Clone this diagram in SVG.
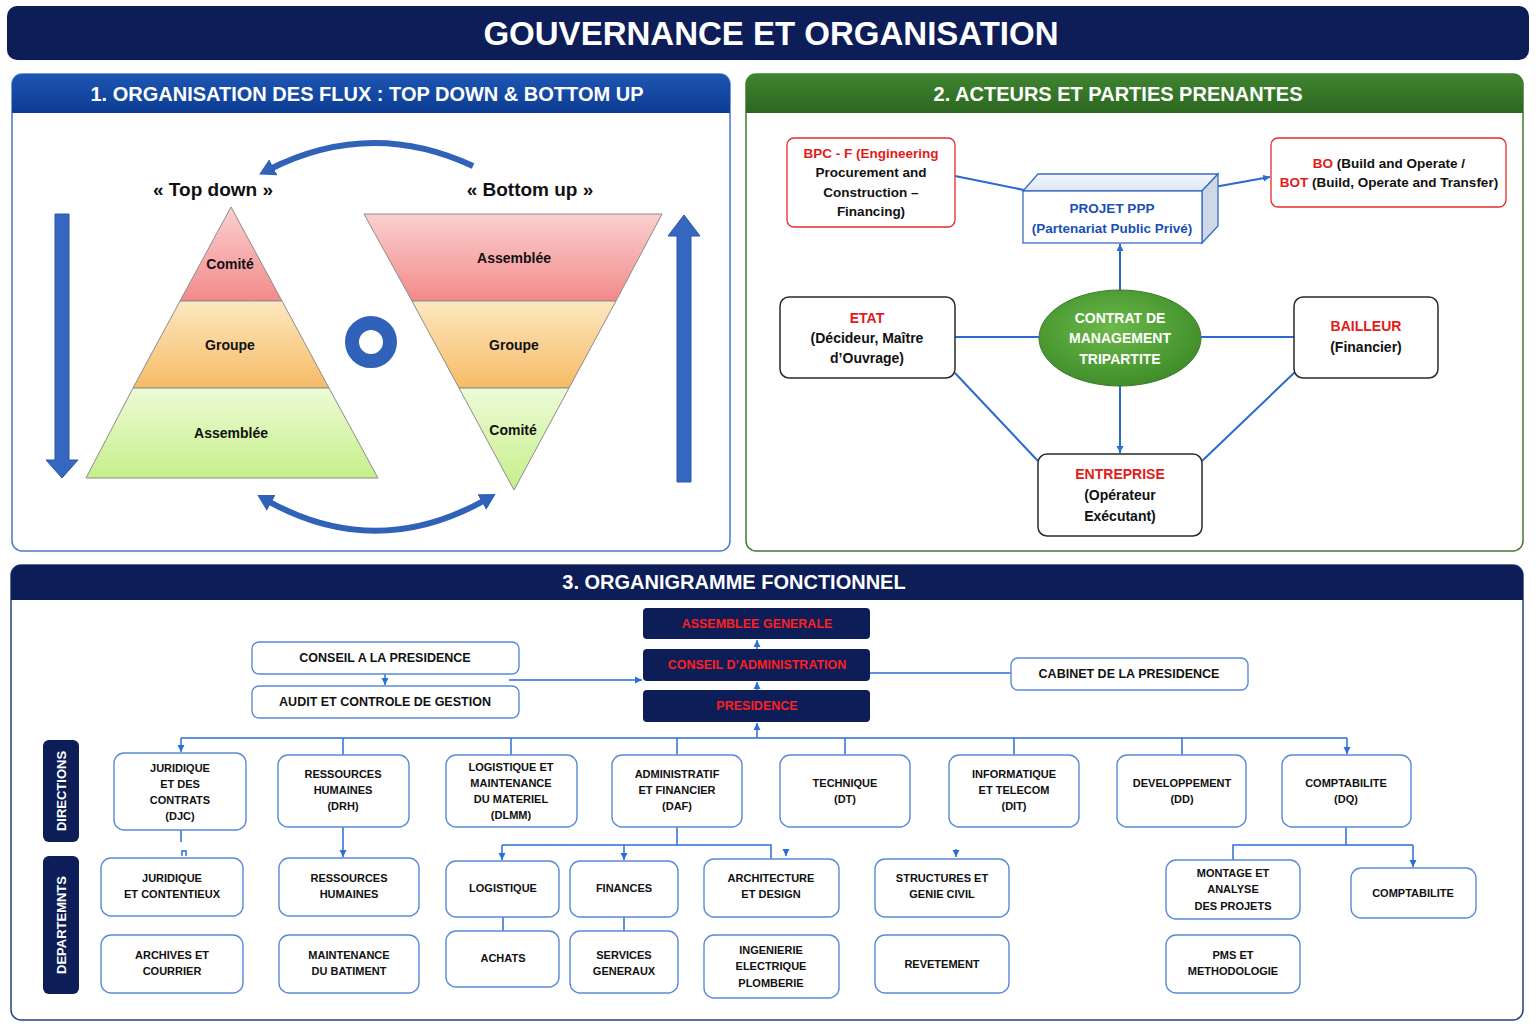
<svg xmlns="http://www.w3.org/2000/svg" width="1536" height="1024" viewBox="0 0 1536 1024">
<defs>
<style>
text{font-family:"Liberation Sans",Arial,sans-serif;dominant-baseline:central;text-anchor:middle}
.hdr{fill:#fff;font-weight:bold;font-size:20px}
.pyr{font-weight:bold;font-size:14px;fill:#111}
.big{font-weight:bold;font-size:19px;fill:#111}
.band{stroke:#8c8c8c;stroke-width:1}
.s2{font-weight:bold;font-size:14px;fill:#111}
.red{fill:#e31b1b}
.rbox{fill:#fff;stroke:#e52b2b;stroke-width:1.3}
.kbox{fill:#fff;stroke:#2a2a2a;stroke-width:1.5}
.c2{stroke:#2a6ad0;stroke-width:2;fill:none}
.c3{stroke:#2a6fd6;stroke-width:1.5;fill:none}
.nav{fill:#0c1d58}
.navt{fill:#ff1f1f;font-size:12.5px;font-weight:bold}
.wbox{fill:#fff;stroke:#5a8ad6;stroke-width:1.4}
.t3{font-weight:bold;font-size:12.5px;fill:#111}
.t4{font-weight:bold;font-size:11px;fill:#111}
.side{fill:#fff;font-weight:bold;font-size:13px}
</style>
<linearGradient id="gRed" x1="0" y1="0" x2="0" y2="1"><stop offset="0" stop-color="#fbd0d0"/><stop offset="1" stop-color="#f38a8a"/></linearGradient>
<linearGradient id="gOra" x1="0" y1="0" x2="0" y2="1"><stop offset="0" stop-color="#fde8c0"/><stop offset="1" stop-color="#f6bb66"/></linearGradient>
<linearGradient id="gGrn" x1="0" y1="0" x2="0" y2="1"><stop offset="0" stop-color="#edfbd6"/><stop offset="1" stop-color="#c6ef8a"/></linearGradient>
<linearGradient id="gH1" x1="0" y1="0" x2="0" y2="1"><stop offset="0" stop-color="#1d56b4"/><stop offset="1" stop-color="#0c3c92"/></linearGradient>
<linearGradient id="gH2" x1="0" y1="0" x2="0" y2="1"><stop offset="0" stop-color="#3f8530"/><stop offset="1" stop-color="#2c6720"/></linearGradient>
<radialGradient id="gEll" cx="0.45" cy="0.4" r="0.65"><stop offset="0" stop-color="#6cba4a"/><stop offset="1" stop-color="#3b8a26"/></radialGradient>
<linearGradient id="gTop" x1="0" y1="0" x2="0" y2="1"><stop offset="0" stop-color="#f2f6fc"/><stop offset="1" stop-color="#dfe7f4"/></linearGradient>
<marker id="arr" markerUnits="userSpaceOnUse" markerWidth="8" markerHeight="8" refX="7" refY="4" orient="auto-start-reverse"><path d="M0,0.5 L7,4 L0,7.5 z" fill="#2a6fd6"/></marker>
<marker id="bigarr" markerUnits="userSpaceOnUse" markerWidth="20" markerHeight="20" refX="6" refY="10" orient="auto-start-reverse"><path d="M0,1 L16,10 L0,19 z" fill="#2f62b8"/></marker>
</defs>
<rect width="1536" height="1024" fill="#ffffff"/>

<!-- Title -->
<g id="title">
<rect x="7" y="6" width="1522" height="54" rx="10" class="nav"/>
<text x="771" y="33" style="fill:#fff;font-weight:bold;font-size:33px">GOUVERNANCE ET ORGANISATION</text>
</g>

<!-- Section 1 -->
<g id="section1">
<rect x="12" y="74" width="718" height="477" rx="10" fill="#fff" stroke="#4a78c8" stroke-width="1.5"/>
<path d="M12,113 V84 A10,10 0 0 1 22,74 H720 A10,10 0 0 1 730,84 V113 Z" fill="url(#gH1)"/>
<text x="367" y="94" class="hdr">1. ORGANISATION DES FLUX : TOP DOWN &amp; BOTTOM UP</text>
</g>
<g id="topdown">
<text x="213" y="189" class="big">« Top down »</text>
<polygon class="band" points="231,207 282,301 180,301" fill="url(#gRed)"/>
<polygon class="band" points="180,301 282,301 329,388 133,388" fill="url(#gOra)"/>
<polygon class="band" points="133,388 329,388 378,478 86,478" fill="url(#gGrn)"/>
<text x="230" y="264" class="pyr">Comité</text>
<text x="230" y="345" class="pyr">Groupe</text>
<text x="231" y="433" class="pyr">Assemblée</text>
</g>
<g id="bottomup">
<text x="530" y="189" class="big">« Bottom up »</text>
<polygon class="band" points="364,214 662,214 616,301 412,301" fill="url(#gRed)"/>
<polygon class="band" points="412,301 616,301 569,388 459,388" fill="url(#gOra)"/>
<polygon class="band" points="459,388 569,388 514,490" fill="url(#gGrn)"/>
<text x="514" y="258" class="pyr">Assemblée</text>
<text x="514" y="345" class="pyr">Groupe</text>
<text x="513" y="430" class="pyr">Comité</text>
</g>
<g id="ring">
<circle cx="371" cy="342" r="19" fill="none" stroke="#2f62b8" stroke-width="14"/>
</g>
<g id="flow-arrows">
<polygon points="55,214 69,214 69,460 78,460 62,478 46,460 55,460" fill="#3567c0" stroke="#2a55a8" stroke-width="1"/>
<polygon points="677,482 691,482 691,236 700,236 684,215 668,236 677,236" fill="#3567c0" stroke="#2a55a8" stroke-width="1"/>
<path d="M473,166 Q370,118 268,170" fill="none" stroke="#2f62b8" stroke-width="6" marker-end="url(#bigarr)"/>
<path d="M266,500 Q376,562 487,499" fill="none" stroke="#2f62b8" stroke-width="6" marker-start="url(#bigarr)" marker-end="url(#bigarr)"/>
</g>

<!-- Section 2 -->
<g id="section2">
<rect x="746" y="74" width="777" height="477" rx="10" fill="#fff" stroke="#3f7a30" stroke-width="1.5"/>
<path d="M746,113 V84 A10,10 0 0 1 756,74 H1513 A10,10 0 0 1 1523,84 V113 Z" fill="url(#gH2)"/>
<text x="1118" y="94" class="hdr">2. ACTEURS ET PARTIES PRENANTES</text>
</g>
<g id="connectors-s2">
<line class="c2" x1="955" y1="176" x2="1024" y2="190"/>
<line class="c2" x1="1203" y1="189" x2="1270" y2="177" marker-end="url(#arr)"/>
<line class="c2" x1="1120" y1="290" x2="1120" y2="244" marker-end="url(#arr)"/>
<line class="c2" x1="955" y1="337" x2="1039" y2="337"/>
<line class="c2" x1="1201" y1="337" x2="1294" y2="337"/>
<line class="c2" x1="1120" y1="386" x2="1120" y2="453" marker-end="url(#arr)"/>
<line class="c2" x1="955" y1="373" x2="1038" y2="461"/>
<line class="c2" x1="1295" y1="372" x2="1202" y2="461"/>
</g>
<g id="bpc">
<rect x="787" y="138" width="168" height="89" rx="7" class="rbox"/>
<text x="871" y="153" class="s2 red" style="font-size:13.5px">BPC - F (Engineering</text>
<text x="871" y="172" class="s2" style="font-size:13.5px">Procurement and</text>
<text x="871" y="192" class="s2" style="font-size:13.5px">Construction –</text>
<text x="871" y="211" class="s2" style="font-size:13.5px">Financing)</text>
</g>
<g id="ppp">
<polygon points="1023,191 1038,174 1218,174 1202,191" fill="url(#gTop)" stroke="#3a6cc0" stroke-width="1.3"/>
<polygon points="1202,191 1218,174 1218,226 1202,243" fill="#cfd8e6" stroke="#3a6cc0" stroke-width="1.3"/>
<rect x="1023" y="191" width="179" height="52" fill="#fff" stroke="#3a6cc0" stroke-width="1.3"/>
<text x="1112" y="208" class="s2" style="fill:#1a4fb8;font-size:13.5px">PROJET PPP</text>
<text x="1112" y="228" class="s2" style="fill:#1a4fb8;font-size:13.5px">(Partenariat Public Privé)</text>
</g>
<g id="bo">
<rect x="1271" y="138" width="235" height="69" rx="7" class="rbox"/>
<text x="1389" y="163" class="s2" style="font-size:13.5px"><tspan class="red">BO</tspan> (Build and Operate /</text>
<text x="1389" y="182" class="s2" style="font-size:13.5px"><tspan class="red">BOT</tspan> (Build, Operate and Transfer)</text>
</g>
<g id="etat">
<rect x="780" y="297" width="175" height="81" rx="9" class="kbox"/>
<text x="867" y="318" class="s2 red">ETAT</text>
<text x="867" y="338" class="s2">(Décideur, Maître</text>
<text x="867" y="358" class="s2">d’Ouvrage)</text>
</g>
<g id="contrat">
<ellipse cx="1120" cy="338" rx="81" ry="48" fill="url(#gEll)" stroke="#3a7a2a" stroke-width="1"/>
<text x="1120" y="318" class="s2" style="fill:#fff">CONTRAT DE</text>
<text x="1120" y="338" class="s2" style="fill:#fff">MANAGEMENT</text>
<text x="1120" y="359" class="s2" style="fill:#fff">TRIPARTITE</text>
</g>
<g id="bailleur">
<rect x="1294" y="297" width="144" height="81" rx="9" class="kbox"/>
<text x="1366" y="326" class="s2 red">BAILLEUR</text>
<text x="1366" y="347" class="s2">(Financier)</text>
</g>
<g id="entreprise">
<rect x="1038" y="454" width="164" height="82" rx="9" class="kbox"/>
<text x="1120" y="474" class="s2 red">ENTREPRISE</text>
<text x="1120" y="495" class="s2">(Opérateur</text>
<text x="1120" y="516" class="s2">Exécutant)</text>
</g>

<!-- Section 3 -->
<g id="section3">
<rect x="11" y="565" width="1512" height="455" rx="10" fill="#fff" stroke="#25407f" stroke-width="1.5"/>
<path d="M11,600 V575 A10,10 0 0 1 21,565 H1513 A10,10 0 0 1 1523,575 V600 Z" class="nav"/>
<text x="734" y="582" class="hdr">3. ORGANIGRAMME FONCTIONNEL</text>
</g>
<g id="connectors-s3">
<line class="c3" x1="757" y1="649" x2="757" y2="640" marker-end="url(#arr)"/>
<line class="c3" x1="757" y1="690" x2="757" y2="682" marker-end="url(#arr)"/>
<line class="c3" x1="757" y1="738" x2="757" y2="723" marker-end="url(#arr)"/>
<line class="c3" x1="385" y1="674" x2="385" y2="685" marker-end="url(#arr)"/>
<line class="c3" x1="509" y1="680" x2="642" y2="680" marker-end="url(#arr)"/>
<line class="c3" x1="870" y1="673" x2="1011" y2="673"/>
<path class="c3" d="M1347,738 H181"/>
<line class="c3" x1="181" y1="738" x2="181" y2="752" marker-end="url(#arr)"/>
<line class="c3" x1="343" y1="738" x2="343" y2="755"/>
<line class="c3" x1="511" y1="738" x2="511" y2="755"/>
<line class="c3" x1="677" y1="738" x2="677" y2="755"/>
<line class="c3" x1="845" y1="738" x2="845" y2="755"/>
<line class="c3" x1="1014" y1="738" x2="1014" y2="755"/>
<line class="c3" x1="1182" y1="738" x2="1182" y2="755"/>
<line class="c3" x1="1347" y1="738" x2="1347" y2="754" marker-end="url(#arr)"/>
<line class="c3" x1="181" y1="830" x2="181" y2="842"/>
<path class="c3" d="M182,856 V851 H186 V856"/>
<line class="c3" x1="343" y1="827" x2="343" y2="857" marker-end="url(#arr)"/>
<line class="c3" x1="677" y1="827" x2="677" y2="845"/>
<path class="c3" d="M502,845 H771 V859"/>
<line class="c3" x1="502" y1="845" x2="502" y2="860" marker-end="url(#arr)"/>
<line class="c3" x1="624" y1="845" x2="624" y2="860" marker-end="url(#arr)"/>
<line class="c3" x1="786" y1="850" x2="786" y2="856" marker-end="url(#arr)"/>
<line class="c3" x1="956" y1="849" x2="956" y2="857" marker-end="url(#arr)"/>
<line class="c3" x1="503" y1="917" x2="503" y2="931"/>
<line class="c3" x1="624" y1="917" x2="624" y2="931"/>
<line class="c3" x1="1346" y1="827" x2="1346" y2="845"/>
<path class="c3" d="M1233,860 V845 H1413"/>
<line class="c3" x1="1413" y1="845" x2="1413" y2="867" marker-end="url(#arr)"/>
</g>
<g id="assemblee-generale">
<rect x="643" y="608" width="227" height="31" rx="4" class="nav"/>
<text x="757" y="624" class="navt">ASSEMBLEE GENERALE</text>
</g>
<g id="conseil-administration">
<rect x="643" y="649" width="227" height="32" rx="4" class="nav"/>
<text x="757" y="665" class="navt">CONSEIL D’ADMINISTRATION</text>
</g>
<g id="presidence">
<rect x="643" y="690" width="227" height="32" rx="4" class="nav"/>
<text x="757" y="706" class="navt">PRESIDENCE</text>
</g>
<g id="conseil-presidence">
<rect x="252" y="642" width="267" height="32" rx="7" class="wbox"/>
<text x="385" y="658" class="t3">CONSEIL A LA PRESIDENCE</text>
</g>
<g id="audit">
<rect x="252" y="686" width="267" height="32" rx="7" class="wbox"/>
<text x="385" y="702" class="t3">AUDIT ET CONTROLE DE GESTION</text>
</g>
<g id="cabinet">
<rect x="1011" y="658" width="237" height="32" rx="7" class="wbox"/>
<text x="1129" y="674" class="t3">CABINET DE LA PRESIDENCE</text>
</g>

<g id="label-directions">
<rect x="43" y="740" width="36" height="102" rx="6" class="nav"/>
<text x="61" y="791" class="side" transform="rotate(-90 61 791)">DIRECTIONS</text>
</g>
<g id="label-departements">
<rect x="43" y="856" width="36" height="138" rx="6" class="nav"/>
<text x="61" y="925" class="side" transform="rotate(-90 61 925)">DEPARTEMNTS</text>
</g>

<!-- Directions -->
<g id="dir-djc">
<rect x="114" y="753" width="132" height="77" rx="10" class="wbox"/>
<text x="180" y="768" class="t4">JURIDIQUE</text>
<text x="180" y="784" class="t4">ET DES</text>
<text x="180" y="800" class="t4">CONTRATS</text>
<text x="180" y="816" class="t4">(DJC)</text>
</g>
<g id="dir-drh">
<rect x="278" y="755" width="131" height="72" rx="10" class="wbox"/>
<text x="343" y="774" class="t4">RESSOURCES</text>
<text x="343" y="790" class="t4">HUMAINES</text>
<text x="343" y="806" class="t4">(DRH)</text>
</g>
<g id="dir-dlmm">
<rect x="446" y="755" width="131" height="72" rx="10" class="wbox"/>
<text x="511" y="767" class="t4">LOGISTIQUE ET</text>
<text x="511" y="783" class="t4">MAINTENANCE</text>
<text x="511" y="799" class="t4">DU MATERIEL</text>
<text x="511" y="815" class="t4">(DLMM)</text>
</g>
<g id="dir-daf">
<rect x="612" y="755" width="130" height="72" rx="10" class="wbox"/>
<text x="677" y="774" class="t4">ADMINISTRATIF</text>
<text x="677" y="790" class="t4">ET FINANCIER</text>
<text x="677" y="806" class="t4">(DAF)</text>
</g>
<g id="dir-dt">
<rect x="780" y="755" width="130" height="72" rx="10" class="wbox"/>
<text x="845" y="783" class="t4">TECHNIQUE</text>
<text x="845" y="799" class="t4">(DT)</text>
</g>
<g id="dir-dit">
<rect x="949" y="755" width="130" height="72" rx="10" class="wbox"/>
<text x="1014" y="774" class="t4">INFORMATIQUE</text>
<text x="1014" y="790" class="t4">ET TELECOM</text>
<text x="1014" y="806" class="t4">(DIT)</text>
</g>
<g id="dir-dd">
<rect x="1117" y="755" width="129" height="72" rx="10" class="wbox"/>
<text x="1182" y="783" class="t4">DEVELOPPEMENT</text>
<text x="1182" y="799" class="t4">(DD)</text>
</g>
<g id="dir-dq">
<rect x="1282" y="755" width="129" height="72" rx="10" class="wbox"/>
<text x="1346" y="783" class="t4">COMPTABILITE</text>
<text x="1346" y="799" class="t4">(DQ)</text>
</g>

<!-- Departments -->
<g id="dep-juridique">
<rect x="101" y="858" width="142" height="58" rx="10" class="wbox"/>
<text x="172" y="878" class="t4">JURIDIQUE</text>
<text x="172" y="894" class="t4">ET CONTENTIEUX</text>
</g>
<g id="dep-archives">
<rect x="101" y="935" width="142" height="58" rx="10" class="wbox"/>
<text x="172" y="955" class="t4">ARCHIVES ET</text>
<text x="172" y="971" class="t4">COURRIER</text>
</g>
<g id="dep-rh">
<rect x="279" y="858" width="140" height="58" rx="10" class="wbox"/>
<text x="349" y="878" class="t4">RESSOURCES</text>
<text x="349" y="894" class="t4">HUMAINES</text>
</g>
<g id="dep-maintenance">
<rect x="279" y="935" width="140" height="58" rx="10" class="wbox"/>
<text x="349" y="955" class="t4">MAINTENANCE</text>
<text x="349" y="971" class="t4">DU BATIMENT</text>
</g>
<g id="dep-logistique">
<rect x="446" y="861" width="113" height="56" rx="10" class="wbox"/>
<text x="503" y="888" class="t4">LOGISTIQUE</text>
</g>
<g id="dep-achats">
<rect x="446" y="931" width="113" height="56" rx="10" class="wbox"/>
<text x="503" y="958" class="t4">ACHATS</text>
</g>
<g id="dep-finances">
<rect x="570" y="861" width="108" height="56" rx="10" class="wbox"/>
<text x="624" y="888" class="t4">FINANCES</text>
</g>
<g id="dep-services">
<rect x="570" y="931" width="108" height="62" rx="10" class="wbox"/>
<text x="624" y="955" class="t4">SERVICES</text>
<text x="624" y="971" class="t4">GENERAUX</text>
</g>
<g id="dep-architecture">
<rect x="704" y="859" width="135" height="58" rx="10" class="wbox"/>
<text x="771" y="878" class="t4">ARCHITECTURE</text>
<text x="771" y="894" class="t4">ET DESIGN</text>
</g>
<g id="dep-ingenierie">
<rect x="704" y="935" width="135" height="63" rx="10" class="wbox"/>
<text x="771" y="950" class="t4">INGENIERIE</text>
<text x="771" y="966" class="t4">ELECTRIQUE</text>
<text x="771" y="983" class="t4">PLOMBERIE</text>
</g>
<g id="dep-structures">
<rect x="875" y="859" width="134" height="58" rx="10" class="wbox"/>
<text x="942" y="878" class="t4">STRUCTURES ET</text>
<text x="942" y="894" class="t4">GENIE CIVIL</text>
</g>
<g id="dep-revetement">
<rect x="875" y="935" width="134" height="58" rx="10" class="wbox"/>
<text x="942" y="964" class="t4">REVETEMENT</text>
</g>
<g id="dep-montage">
<rect x="1166" y="860" width="134" height="59" rx="10" class="wbox"/>
<text x="1233" y="873" class="t4">MONTAGE ET</text>
<text x="1233" y="889" class="t4">ANALYSE</text>
<text x="1233" y="906" class="t4">DES PROJETS</text>
</g>
<g id="dep-pms">
<rect x="1166" y="935" width="134" height="58" rx="10" class="wbox"/>
<text x="1233" y="955" class="t4">PMS ET</text>
<text x="1233" y="971" class="t4">METHODOLOGIE</text>
</g>
<g id="dep-comptabilite">
<rect x="1351" y="868" width="125" height="50" rx="10" class="wbox"/>
<text x="1413" y="893" class="t4">COMPTABILITE</text>
</g>
</svg>
